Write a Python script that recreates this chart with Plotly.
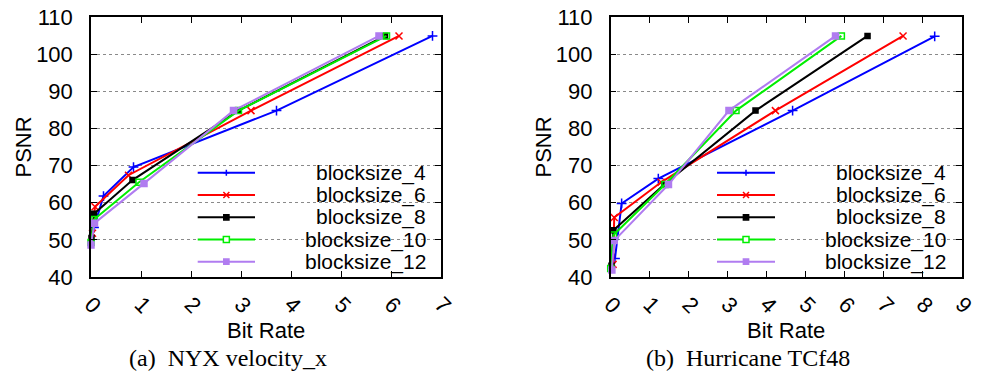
import plotly.graph_objects as go

W, H = 981, 373

# ---- data: PSNR vs. bit rate for each block size ----
series_names = ["blocksize_4", "blocksize_6", "blocksize_8", "blocksize_10", "blocksize_12"]

# NYX velocity_x
nyx_bs4_rate = [0.06, 0.25, 0.85, 3.71, 6.83]
nyx_bs4_psnr = [53.3, 61.8, 69.6, 84.8, 104.9]
nyx_bs6_rate = [0.03, 0.08, 0.75, 3.20, 6.16]
nyx_bs6_psnr = [51.8, 58.9, 67.4, 84.8, 104.9]
nyx_bs8_rate = [0.01, 0.06, 0.83, 2.95, 5.88]
nyx_bs8_psnr = [50.5, 57.0, 66.1, 84.8, 104.9]
nyx_bs10_rate = [0.00, 0.06, 0.96, 2.95, 5.91]
nyx_bs10_psnr = [49.3, 55.5, 65.5, 84.8, 104.9]
nyx_bs12_rate = [0.00, 0.07, 1.06, 2.85, 5.76]
nyx_bs12_psnr = [48.6, 54.5, 65.2, 84.8, 104.9]

# Hurricane TCf48
hur_bs4_rate = [0.11, 0.28, 1.22, 4.66, 8.30]
hur_bs4_psnr = [45.0, 59.8, 66.5, 84.8, 104.8]
hur_bs6_rate = [0.06, 0.09, 1.29, 4.22, 7.49]
hur_bs6_psnr = [43.4, 56.0, 65.5, 84.8, 104.9]
hur_bs8_rate = [0.02, 0.07, 1.37, 3.71, 6.58]
hur_bs8_psnr = [43.0, 52.6, 64.9, 84.8, 104.9]
hur_bs10_rate = [0.00, 0.07, 1.39, 3.21, 5.91]
hur_bs10_psnr = [42.3, 51.3, 64.9, 84.8, 104.9]
hur_bs12_rate = [0.03, 0.09, 1.48, 3.03, 5.76]
hur_bs12_psnr = [41.9, 49.8, 64.9, 84.8, 104.9]

nyx_rates = [nyx_bs4_rate, nyx_bs6_rate, nyx_bs8_rate, nyx_bs10_rate, nyx_bs12_rate]
nyx_psnrs = [nyx_bs4_psnr, nyx_bs6_psnr, nyx_bs8_psnr, nyx_bs10_psnr, nyx_bs12_psnr]
hur_rates = [hur_bs4_rate, hur_bs6_rate, hur_bs8_rate, hur_bs10_rate, hur_bs12_rate]
hur_psnrs = [hur_bs4_psnr, hur_bs6_psnr, hur_bs8_psnr, hur_bs10_psnr, hur_bs12_psnr]

psnr_ticks = [40, 50, 60, 70, 80, 90, 100, 110]
nyx_rate_ticks = [0, 1, 2, 3, 4, 5, 6, 7]
hur_rate_ticks = [0, 1, 2, 3, 4, 5, 6, 7, 8, 9]

# ---- styling ----
colors = ["#0000ff", "#ff0000", "#000000", "#00ee00", "#b07cf0"]
symbols = ["cross-thin", "x-thin", "square", "square-open", "square"]
msizes = [7, 7, 5, 6, 6]

SANS = "Liberation Sans, Arial, sans-serif"
SERIF = "Liberation Serif, Times New Roman, serif"


def px_x(p):
    return p / W


def px_y(p):
    return 1 - p / H


fig = go.Figure()

for rates, psnrs, xa, ya in [(nyx_rates, nyx_psnrs, "x", "y"), (hur_rates, hur_psnrs, "x2", "y2")]:
    for name, r, p, c, s, ms in zip(series_names, rates, psnrs, colors, symbols, msizes):
        fig.add_trace(go.Scatter(
            x=r, y=p, name=name, mode="lines+markers",
            xaxis=xa, yaxis=ya, showlegend=False, cliponaxis=False,
            line=dict(color=c, width=2),
            marker=dict(symbol=s, size=ms, color=c, line=dict(color=c, width=1.5)),
        ))

y_dom = [px_y(277), px_y(17)]
left_dom = [px_x(91), px_x(441)]
right_dom = [px_x(610.7), px_x(962)]

common_axis = dict(
    showline=True, linecolor="black", linewidth=1.5, mirror="allticks",
    ticks="inside", ticklen=6, tickcolor="black", tickwidth=1, automargin=False,
    zeroline=False, tickfont=dict(family=SANS, size=22, color="black"),
)

xaxis_common = dict(common_axis, showgrid=False, tickangle=45, ticklabelstandoff=4)
yaxis_common = dict(common_axis, showgrid=True, gridcolor="#8a8a8a", griddash="dot",
                    gridwidth=1, range=[40, 110], tickvals=psnr_ticks, ticklabelstandoff=12)

fig.update_layout(
    width=W, height=H, margin=dict(l=0, r=0, t=0, b=0, autoexpand=False),
    paper_bgcolor="white", plot_bgcolor="white",
    xaxis=dict(xaxis_common, domain=left_dom, range=[0, 7], tickvals=nyx_rate_ticks, anchor="y"),
    yaxis=dict(yaxis_common, domain=y_dom, anchor="x"),
    xaxis2=dict(xaxis_common, domain=right_dom, range=[0, 9], tickvals=hur_rate_ticks, anchor="y2"),
    yaxis2=dict(yaxis_common, domain=y_dom, anchor="x2"),
)

# ---- axis titles and captions ----
ann = []
for cx, cap_x, caption in [(266, 227.5, "(a)\u00a0 NYX velocity_x"), (786, 747.5, "(b)\u00a0 Hurricane TCf48")]:
    ann.append(dict(text="Bit Rate", x=px_x(cx), y=px_y(330), xref="paper", yref="paper",
                    showarrow=False, font=dict(family=SANS, size=22, color="black"),
                    xanchor="center", yanchor="middle"))
    ann.append(dict(text=caption, x=px_x(cap_x), y=px_y(358), xref="paper", yref="paper",
                    showarrow=False, font=dict(family=SERIF, size=24, color="black"),
                    xanchor="center", yanchor="middle"))
for cx in (22.5, 542.5):
    ann.append(dict(text="PSNR", x=px_x(cx), y=px_y(147), xref="paper", yref="paper",
                    showarrow=False, textangle=-90, font=dict(family=SANS, size=22, color="black"),
                    xanchor="center", yanchor="middle"))

# ---- keys (gnuplot style: sample on the left, right-aligned text) ----
shapes = []
row_y = [172.7, 195.0, 217.3, 239.5, 261.7]
for box_l, box_r, line_l, line_r, text_r in [(183, 430, 197.7, 255, 428.3), (703, 950, 717, 775, 947.7)]:
    shapes.append(dict(type="rect", xref="paper", yref="paper", layer="between",
                       x0=px_x(box_l), x1=px_x(box_r), y0=px_y(276), y1=px_y(158),
                       fillcolor="white", line=dict(width=0)))
    mid = (line_l + line_r) / 2
    for name, c, s, ry in zip(series_names, colors, symbols, row_y):
        shapes.append(dict(type="line", xref="paper", yref="paper", layer="above",
                           x0=px_x(line_l), x1=px_x(line_r), y0=px_y(ry), y1=px_y(ry),
                           line=dict(color=c, width=2)))
        h = 3
        if s == "cross-thin":
            path = (f"M{px_x(mid - h)},{px_y(ry)} L{px_x(mid + h)},{px_y(ry)} "
                    f"M{px_x(mid)},{px_y(ry - h)} L{px_x(mid)},{px_y(ry + h)}")
            shapes.append(dict(type="path", xref="paper", yref="paper", layer="above",
                               path=path, line=dict(color=c, width=1.5)))
        elif s == "x-thin":
            path = (f"M{px_x(mid - h)},{px_y(ry - h)} L{px_x(mid + h)},{px_y(ry + h)} "
                    f"M{px_x(mid - h)},{px_y(ry + h)} L{px_x(mid + h)},{px_y(ry - h)}")
            shapes.append(dict(type="path", xref="paper", yref="paper", layer="above",
                               path=path, line=dict(color=c, width=1.5)))
        else:
            k = 2.6 if s == "square" else 3
            fill = c if s == "square" else "white"
            shapes.append(dict(type="rect", xref="paper", yref="paper", layer="above",
                               x0=px_x(mid - k), x1=px_x(mid + k), y0=px_y(ry + k), y1=px_y(ry - k),
                               fillcolor=fill, line=dict(color=c, width=1.5)))
        ann.append(dict(text=name, x=px_x(text_r), y=px_y(ry), xref="paper", yref="paper",
                        showarrow=False, font=dict(family=SANS, size=21, color="black"),
                        xanchor="right", yanchor="middle"))

fig.update_layout(annotations=ann, shapes=shapes)

fig.write_html("out.html")
